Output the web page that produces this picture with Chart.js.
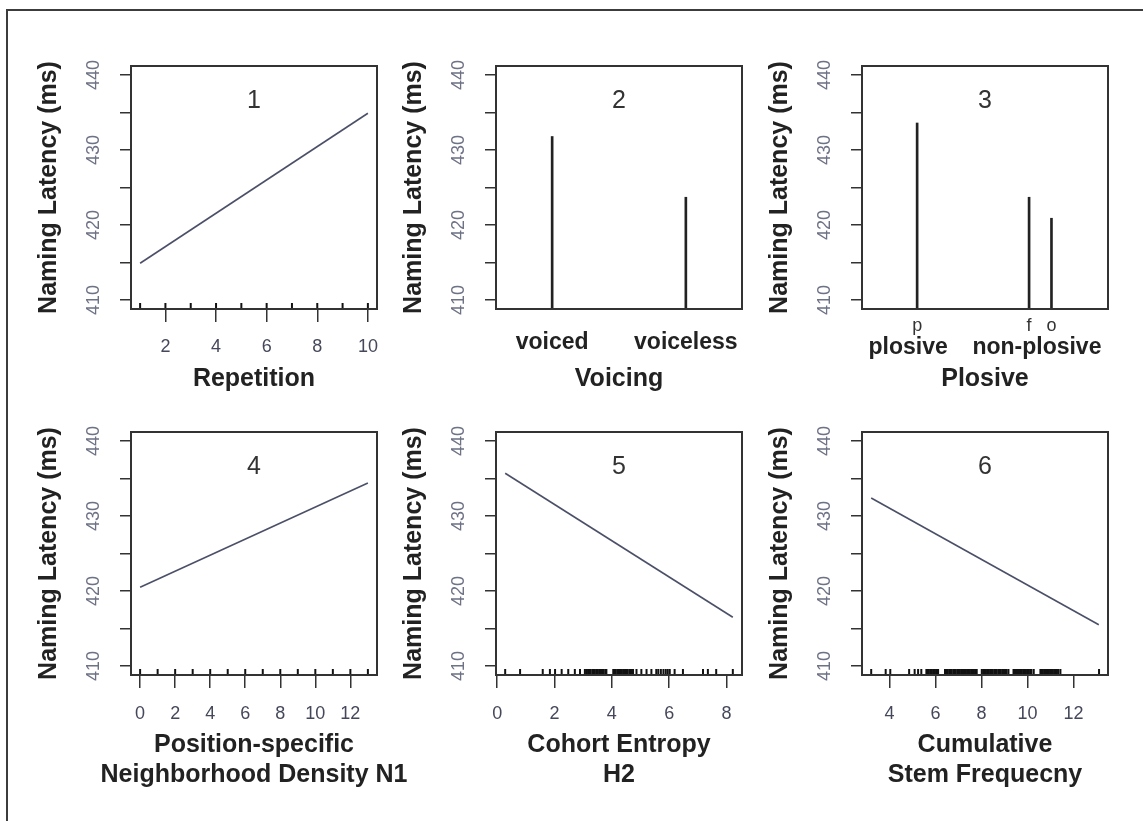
<!DOCTYPE html>
<html>
<head>
<meta charset="utf-8">
<title>Naming latency partial effects</title>
<script src="https://cdn.jsdelivr.net/npm/chart.js@4.4.1/dist/chart.umd.min.js"></script>
<style>
  body { margin: 0; background: #fff; width: 1143px; height: 821px; overflow: hidden; position: relative; }
  #frame { position: absolute; left: 6px; top: 9px; width: 1200px; height: 900px; border: 2px solid #3c3c3c; }
  canvas { position: absolute; }
</style>
</head>
<body>
<div id="frame"></div>
<canvas id="p1" width="466" height="368" style="left:21px;top:26px"></canvas>
<canvas id="p2" width="466" height="368" style="left:386px;top:26px"></canvas>
<canvas id="p3" width="466" height="368" style="left:752px;top:26px"></canvas>
<canvas id="p4" width="466" height="398" style="left:21px;top:392px"></canvas>
<canvas id="p5" width="466" height="398" style="left:386px;top:392px"></canvas>
<canvas id="p6" width="466" height="398" style="left:752px;top:392px"></canvas>
<script>
// shared y axis
const yTicks = [410, 415, 420, 425, 430, 435, 440];
const yMin = 408.8, yMax = 441.2;

// 1 - Repetition
const repX = [1, 10];
const repY = [414.9, 434.9];
const repRug = [1, 2, 3, 4, 5, 6, 7, 8, 9, 10];
const repTicks = [2, 4, 6, 8, 10];

// 2 - Voicing
const voicingCats = ['voiced', 'voiceless'];
const voicingPos = [1, 2];
const voicingY = [431.8, 423.7];

// 3 - Plosive
const plosiveCats = ['p', 'f', 'o'];
const plosivePos = [1, 3, 3.4];
const plosiveY = [433.6, 423.7, 420.9];
const plosiveGroups = ['plosive', 'non-plosive'];
const plosiveGroupPos = [0.84, 3.14];

// 4 - Neighborhood density N1
const n1X = [0, 13];
const n1Y = [420.5, 434.4];
const n1Rug = [0, 1, 2, 3, 4, 5, 6, 7, 8, 9, 10, 11, 12, 13];
const n1Ticks = [0, 2, 4, 6, 8, 10, 12];

// 5 - Cohort entropy H2
const h2X = [0.28, 8.22];
const h2Y = [435.7, 416.5];
const h2Rug = [0.28, 0.80, 1.59, 1.84, 2.02, 2.25, 2.48, 2.71, 2.89,
  3.06, 3.11, 3.17, 3.21, 3.26, 3.32, 3.36, 3.41, 3.47, 3.51, 3.56, 3.62, 3.66, 3.71, 3.77, 3.81,
  4.05, 4.10, 4.14, 4.20, 4.25, 4.29, 4.35, 4.40, 4.46, 4.50, 4.55, 4.61, 4.65, 4.70, 4.74,
  4.86, 5.03, 5.21, 5.38, 5.55, 5.62, 5.71, 5.80, 5.88, 5.95, 6.02, 6.19, 6.48, 7.18, 7.35, 7.64, 8.22];
const h2Ticks = [0, 2, 4, 6, 8];

// 6 - Cumulative stem frequency
const freqX = [3.2, 13.1];
const freqY = [432.4, 415.5];
const freqRug = [3.20, 3.83, 4.03, 4.85, 5.09, 5.24, 5.38,
  5.60, 5.66, 5.71, 5.78, 5.84, 5.90, 5.95, 6.02, 6.07, 6.11,
  6.41, 6.47, 6.52, 6.59, 6.65, 6.70, 6.77, 6.83, 6.88, 6.95, 7.01, 7.06, 7.13, 7.19, 7.24, 7.31, 7.37, 7.42, 7.49, 7.55, 7.60, 7.67, 7.73, 7.79,
  8.01, 8.07, 8.12, 8.19, 8.25, 8.30, 8.37, 8.43, 8.48, 8.55, 8.61, 8.66, 8.73, 8.79, 8.84, 8.91, 8.97, 9.02, 9.09, 9.17,
  9.39, 9.45, 9.50, 9.57, 9.63, 9.68, 9.75, 9.81, 9.86, 9.93, 9.99, 10.04, 10.11, 10.17, 10.27,
  10.56, 10.62, 10.67, 10.74, 10.80, 10.85, 10.92, 10.98, 11.03, 11.10, 11.16, 11.21, 11.28, 11.34, 11.43,
  13.11];
const freqTicks = [4, 6, 8, 10, 12];

const FONT = "'Liberation Sans', Arial, sans-serif";
const titleFont = { family: FONT, size: 25, weight: 'bold' };
const numFont = { family: FONT, size: 18 };
const catFont = { family: FONT, size: 23, weight: 'bold' };

// box round the plot region + panel number
const panelFrame = {
  id: 'panelFrame',
  afterDraw(chart, args, opts) {
    const { ctx, chartArea: a } = chart;
    ctx.save();
    ctx.strokeStyle = '#333';
    ctx.lineWidth = 2;
    ctx.strokeRect(a.left, a.top, a.right - a.left, a.bottom - a.top);
    ctx.fillStyle = '#333';
    ctx.font = '25px ' + FONT;
    ctx.textAlign = 'center';
    ctx.textBaseline = 'middle';
    ctx.fillText(opts.label, (a.left + a.right) / 2, a.top + 35);
    ctx.restore();
  }
};

function yAxis() {
  return {
    type: 'linear', min: yMin, max: yMax,
    afterBuildTicks: s => { s.ticks = yTicks.map(v => ({ value: v })); },
    afterFit: s => { s.width = 110; },
    border: { display: false },
    grid: { drawOnChartArea: false, drawTicks: true, tickLength: 11, color: '#333', lineWidth: 1.5 },
    ticks: {
      autoSkip: false, minRotation: 90, maxRotation: 90, crossAlign: 'center', padding: 11,
      color: '#6e7285', font: numFont,
      callback: v => (v % 10 === 0 ? String(v) : '')
    },
    title: { display: true, text: 'Naming Latency (ms)', color: '#222', font: titleFont, padding: { top: 13, bottom: 0 } }
  };
}

// empty right axis, keeps the canvas symmetric round the plot so the x label centres on it
function spacerAxis() {
  return {
    type: 'linear', position: 'right', min: yMin, max: yMax,
    afterFit: s => { s.width = 110; },
    border: { display: false },
    grid: { display: false, drawTicks: false },
    ticks: { display: false },
    title: { display: false }
  };
}

function xAxis(o) {
  return {
    type: 'linear', min: o.min, max: o.max, offset: false, weight: o.weight || 0,
    afterBuildTicks: s => { s.ticks = o.ticks.map(v => ({ value: v })); },
    afterFit: s => { s.height = o.height; },
    border: { display: false },
    grid: o.tickMarks
      ? { drawOnChartArea: false, drawTicks: true, tickLength: 13, color: '#333', lineWidth: 1.5 }
      : { display: false, drawTicks: false },
    ticks: {
      autoSkip: false, minRotation: 0, maxRotation: 0, padding: o.pad,
      color: o.color || '#45485a', font: o.font || numFont,
      callback: o.labels ? (v, i) => o.labels[i] : v => String(v)
    },
    title: { display: false }
  };
}

function lineSet(xs, ys) {
  return {
    type: 'line', data: xs.map((x, i) => ({ x: x, y: ys[i] })),
    borderColor: '#4b5068', borderWidth: 1.6, pointRadius: 0, clip: 0
  };
}

// rug marks along the bottom of the plot
function rugSet(xs) {
  return {
    type: 'scatter', data: xs.map(x => ({ x: x, y: yMin })), showLine: false,
    pointStyle: 'line', pointRotation: 90, pointRadius: 6, pointHoverRadius: 6,
    pointBorderColor: '#111', pointBorderWidth: 2, clip: 0
  };
}

function barSet(xs, ys) {
  return {
    type: 'bar', data: xs.map((x, i) => ({ x: x, y: ys[i] })),
    backgroundColor: '#222', barThickness: 2, base: yMin, clip: 0
  };
}

function makePanel(id, label, xTitle, datasets, scales) {
  scales.y = yAxis();
  scales.yr = spacerAxis();
  return new Chart(document.getElementById(id), {
    type: 'line',
    data: { datasets: datasets },
    options: {
      responsive: false, animation: false, devicePixelRatio: 1,
      layout: { padding: { left: 0, top: 40, right: 0, bottom: 0 } },
      plugins: {
        legend: { display: false },
        tooltip: { enabled: false },
        title: {
          display: true, position: 'bottom', text: xTitle, color: '#222', font: titleFont,
          padding: { top: 5, bottom: 0 }
        },
        panelFrame: { label: label }
      },
      scales: scales
    },
    plugins: [panelFrame]
  });
}

makePanel('p1', '1', 'Repetition', [lineSet(repX, repY), rugSet(repRug)], {
  x: xAxis({ min: 0.64, max: 10.36, ticks: repTicks, tickMarks: true, pad: 14, height: 50 })
});

makePanel('p2', '2', 'Voicing', [barSet(voicingPos, voicingY)], {
  x: xAxis({ min: 0.58, max: 2.42, ticks: voicingPos, labels: voicingCats, font: catFont, color: '#222',
    tickMarks: false, pad: 20, height: 50 })
});

makePanel('p3', '3', 'Plosive', [barSet(plosivePos, plosiveY)], {
  x: xAxis({ min: 0.015, max: 4.41, ticks: plosivePos, labels: plosiveCats, color: '#333',
    tickMarks: false, pad: 6, height: 27 }),
  x2: xAxis({ min: 0.015, max: 4.41, ticks: plosiveGroupPos, labels: plosiveGroups, font: catFont, color: '#222',
    tickMarks: false, pad: -2, height: 23, weight: 1 })
});

makePanel('p4', '4', ['Position-specific', 'Neighborhood Density N1'], [lineSet(n1X, n1Y), rugSet(n1Rug)], {
  x: xAxis({ min: -0.52, max: 13.52, ticks: n1Ticks, tickMarks: true, pad: 15, height: 50 })
});

makePanel('p5', '5', ['Cohort Entropy', 'H2'], [lineSet(h2X, h2Y), rugSet(h2Rug)], {
  x: xAxis({ min: -0.04, max: 8.54, ticks: h2Ticks, tickMarks: true, pad: 15, height: 50 })
});

makePanel('p6', '6', ['Cumulative', 'Stem Frequecny'], [lineSet(freqX, freqY), rugSet(freqRug)], {
  x: xAxis({ min: 2.80, max: 13.50, ticks: freqTicks, tickMarks: true, pad: 15, height: 50 })
});
</script>
</body>
</html>
